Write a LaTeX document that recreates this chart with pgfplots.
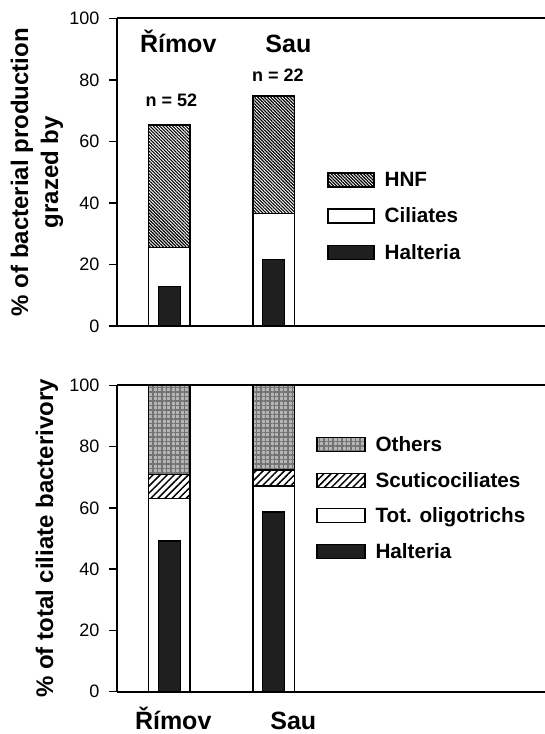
\documentclass[border=0pt]{standalone}
\usepackage{fontspec}
\setmainfont{Liberation Sans}
\usepackage{pgfplots}
\pgfplotsset{compat=1.18}
\usetikzlibrary{patterns.meta}

\def\lgw{46pt}
\pgfplotsset{
  bx/.style={ybar, bar shift=0pt, draw=black, line width=1.4pt,
    legend image code/.code={\draw[##1] (0pt,-7pt) rectangle (\lgw,7pt);}},
  panel/.style={
    scale only axis, width=443pt,
    xmin=0.5, xmax=4.74, ymin=0, ymax=100,
    axis lines*=left, axis line style={line width=1.8pt},
    xtick=\empty, ytick={0,20,...,100},
    tick align=outside, major tick length=8pt,
    every tick/.style={black, line width=1.5pt},
    tick label style={font=\fontsize{18}{21}\selectfont},
    yticklabel style={xshift=-6pt},
    /pgf/number format/assume math mode=true,
    clip=false,
    every axis y label/.style={rotate=90, anchor=center},
    ylabel style={align=center, font=\bfseries\fontsize{24}{30}\selectfont},
    legend cell align=left,
    legend style={draw=none, fill=none, anchor=north west, inner sep=0pt,
      font=\bfseries\fontsize{20.7}{24}\selectfont, row sep=16pt,
      /tikz/every odd column/.style={column sep=8pt}},
  },
}

\begin{document}
\begin{tikzpicture}
\path[use as bounding box] (0,0) rectangle (545pt,734pt);

% upper panel: share of bacterial production grazed
\begin{axis}[panel, height=307.7pt, at={(117pt,408pt)}, anchor=south west,
  ylabel={\% of bacterial production\\grazed by},
  every axis y label/.append style={at={(rel axis cs:-0.1806,0.5)}},
  legend style={at={(rel axis cs:0.474,0.507)}}]
\addplot[bx, bar width=0.4, pattern={Lines[angle=-45,distance=2.3pt,line width=1.15pt]}]
  coordinates {(1,65.3) (2,74.8)};
\addplot[bx, bar width=0.4, fill=white]
  coordinates {(1,25.6) (2,36.5)};
\addplot[bx, bar width=0.21, fill=black!88]
  coordinates {(1,12.8) (2,21.6)};
\legend{HNF, Ciliates, Halteria}
\draw[line width=1.8pt] (rel axis cs:0,1) -- (rel axis cs:1,1);
\node[anchor=base, font=\bfseries\fontsize{25}{28}\selectfont] at (axis cs:1.086,89) {Římov};
\node[anchor=base, font=\bfseries\fontsize{25}{28}\selectfont] at (axis cs:2.14,89) {Sau};
\node[anchor=base, font=\bfseries\fontsize{18}{22}\selectfont] at (axis cs:1.02,71.2) {n = 52};
\node[anchor=base, font=\bfseries\fontsize{18}{22}\selectfont] at (axis cs:2.04,79.6) {n = 22};
\end{axis}

\def\lgw{48pt}
% lower panel: share of ciliate bacterivory
\begin{axis}[panel, height=306.4pt, at={(117pt,42.3pt)}, anchor=south west,
  ylabel={\% of total ciliate bacterivory},
  every axis y label/.append style={at={(rel axis cs:-0.158,0.5)}},
  legend style={at={(rel axis cs:0.449,0.84)}, row sep=15pt}]
\addplot[bx, bar width=0.4, fill=gray!58,
  postaction={pattern={Hatch[angle=0,distance=4.5pt,line width=1.2pt]}, pattern color=black!55}]
  coordinates {(1,100) (2,100)};
\addplot[bx, bar width=0.4, fill=white,
  postaction={pattern={Lines[angle=45,distance=5pt,line width=1.5pt]}}]
  coordinates {(1,70.8) (2,72.4)};
\addplot[bx, bar width=0.4, fill=white]
  coordinates {(1,63.0) (2,67.1)};
\addplot[bx, bar width=0.21, fill=black!88]
  coordinates {(1,49.2) (2,58.6)};
\legend{Others, Scuticociliates, Tot. oligotrichs, Halteria}
\draw[line width=1.8pt] (rel axis cs:0,1) -- (rel axis cs:1,1);
\node[anchor=base, font=\bfseries\fontsize{25}{28}\selectfont, yshift=-38pt] at (axis cs:1.038,0) {Římov};
\node[anchor=base, font=\bfseries\fontsize{25}{28}\selectfont, yshift=-38pt] at (axis cs:2.187,0) {Sau};
\end{axis}
\end{tikzpicture}
\end{document}
